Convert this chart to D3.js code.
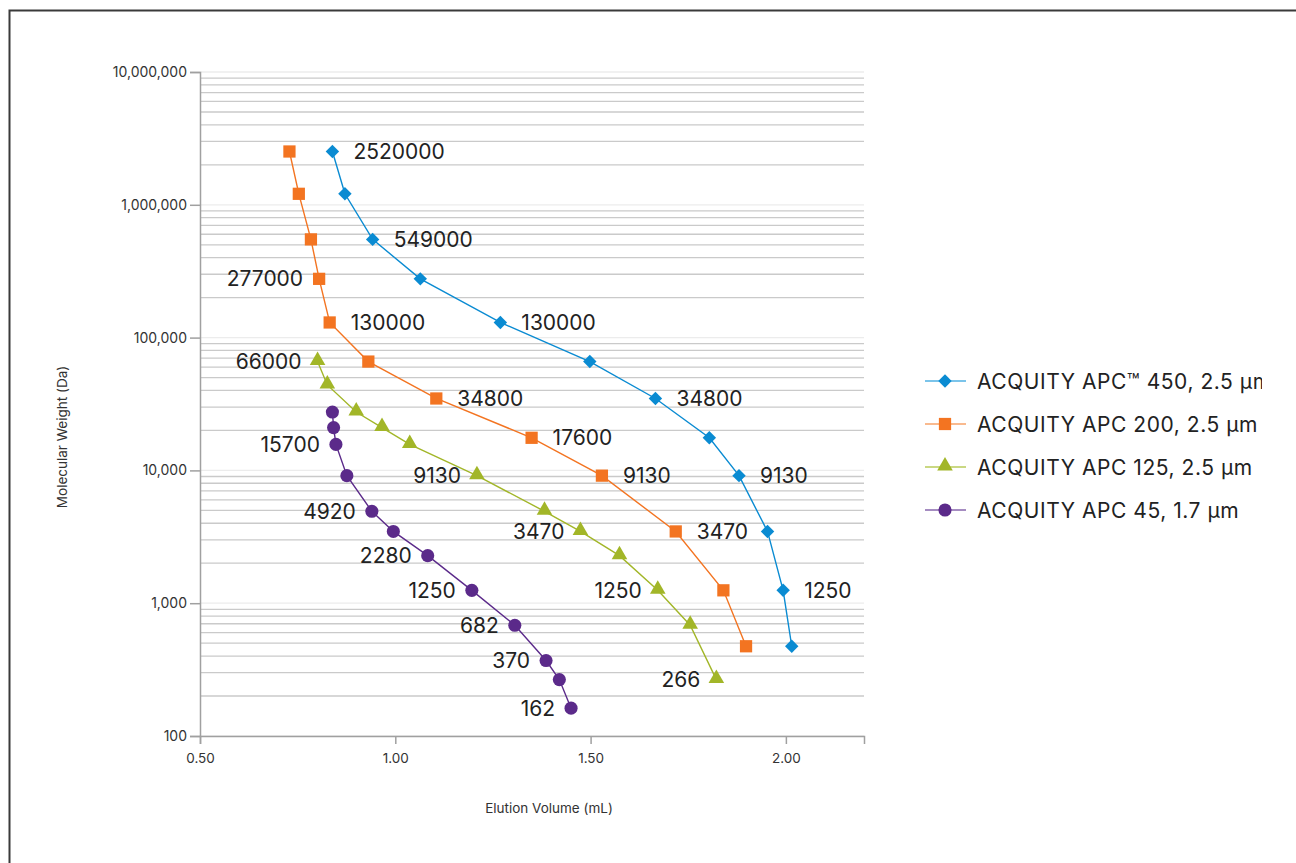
<!DOCTYPE html>
<html>
<head>
<meta charset="utf-8">
<script src="https://cdn.jsdelivr.net/npm/d3@7"></script>
<style>
	body { margin: 0; background: #fff; }
	text { font-family: Inter, "Liberation Sans", sans-serif; }
</style>
</head>
<body>
<div id="chart"></div>
<script>
// values (elution volume in mL, molecular weight in Da)
var apc450Volume = [0.839, 0.871, 0.942, 1.064, 1.269, 1.498, 1.666, 1.804, 1.880, 1.953, 1.993, 2.015];
var apc450MW = [2520000, 1210000, 549000, 277000, 130000, 66000, 34800, 17600, 9130, 3470, 1250, 474];

var apc200Volume = [0.729, 0.753, 0.784, 0.805, 0.832, 0.931, 1.105, 1.349, 1.529, 1.718, 1.840, 1.898];
var apc200MW = [2520000, 1210000, 549000, 277000, 130000, 66000, 34800, 17600, 9130, 3470, 1250, 474];

var apc125Volume = [0.801, 0.826, 0.900, 0.966, 1.037, 1.209, 1.382, 1.474, 1.574, 1.672, 1.755, 1.822];
var apc125MW = [66000, 44000, 27500, 21000, 15700, 9130, 4920, 3470, 2280, 1250, 682, 266];

var apc45Volume = [0.839, 0.842, 0.848, 0.876, 0.940, 0.995, 1.083, 1.196, 1.306, 1.386, 1.420, 1.450];
var apc45MW = [27500, 21000, 15700, 9130, 4920, 3470, 2280, 1250, 682, 370, 266, 162];

// which points carry a value label, and which of those sit on the left
var apc450Labelled = [0, 2, 4, 6, 8, 10];
var apc450LeftLabels = [];
var apc200Labelled = [3, 4, 6, 7, 8, 9];
var apc200LeftLabels = [3];
var apc125Labelled = [0, 5, 7, 9, 11];
var apc125LeftLabels = [0, 5, 7, 9, 11];
var apc45Labelled = [2, 4, 6, 7, 8, 9, 11];
var apc45LeftLabels = [2, 4, 6, 7, 8, 9, 11];

var seriesNames = ["ACQUITY APC\u2122 450, 2.5 \u00b5m", "ACQUITY APC 200, 2.5 \u00b5m",
	"ACQUITY APC 125, 2.5 \u00b5m", "ACQUITY APC 45, 1.7 \u00b5m"];

var xTicks = [0.5, 1.0, 1.5, 2.0];
var yTicks = [100, 1000, 10000, 100000, 1000000, 10000000];

var series = [
	{ name: seriesNames[0], x: apc450Volume, y: apc450MW, labels: apc450Labelled, left: apc450LeftLabels,
		color: "#0a8bd2", legendLine: "#4fb0e3", symbol: "diamond" },
	{ name: seriesNames[1], x: apc200Volume, y: apc200MW, labels: apc200Labelled, left: apc200LeftLabels,
		color: "#f37421", legendLine: "#f7a36a", symbol: "square" },
	{ name: seriesNames[2], x: apc125Volume, y: apc125MW, labels: apc125Labelled, left: apc125LeftLabels,
		color: "#a2b628", legendLine: "#b9cb5a", symbol: "triangle" },
	{ name: seriesNames[3], x: apc45Volume, y: apc45MW, labels: apc45Labelled, left: apc45LeftLabels,
		color: "#5b2a8a", legendLine: "#8766ad", symbol: "circle" }
];

var W = 1296, H = 863;
var svg = d3.select("#chart")
	.append("svg")
	.attr("width", W)
	.attr("height", H);

// frame
svg.append("path")
	.attr("d", "M9.5," + H + "V10.5H" + W)
	.attr("fill", "none")
	.attr("stroke", "#3a3a3a")
	.attr("stroke-width", 2);

var x = d3.scaleLinear().domain([0.5, 2.2]).range([200, 864]);
var y = d3.scaleLog().domain([100, 10000000]).range([736, 72]);

// minor / major horizontal grid
var gridVals = [];
for (var e = 2; e < 7; e++) {
	for (var m = 1; m < 10; m++) gridVals.push(m * Math.pow(10, e));
}
gridVals.push(10000000);
svg.append("g")
	.selectAll("line")
	.data(gridVals)
	.join("line")
	.attr("x1", x(0.5)).attr("x2", x(2.2))
	.attr("y1", d => y(d)).attr("y2", d => y(d))
	.attr("stroke", d => yTicks.indexOf(d) >= 0 ? "#ececec" : "#cacaca")
	.attr("stroke-width", 1.3);

// Y axis
var yAxis = svg.append("g")
	.attr("transform", "translate(200,0)")
	.call(d3.axisLeft(y).tickValues(yTicks).tickFormat(d3.format(",")).tickSize(10).tickPadding(3));
yAxis.select(".domain").attr("stroke", "#a0a0a0").attr("stroke-width", 1.5);
yAxis.selectAll(".tick line").attr("stroke", "#a0a0a0").attr("stroke-width", 1.5);
yAxis.selectAll("text").attr("font-size", 14).attr("fill", "#333")
	.style("font-family", "Inter, 'Liberation Sans', sans-serif");

// X axis
var xAxis = svg.append("g")
	.attr("transform", "translate(0,736)")
	.call(d3.axisBottom(x).tickValues(xTicks).tickFormat(d3.format(".2f")).tickSize(8).tickPadding(9));
xAxis.select(".domain").attr("stroke", "#a0a0a0").attr("stroke-width", 1.5);
xAxis.selectAll(".tick line").attr("stroke", "#a0a0a0").attr("stroke-width", 1.5);
xAxis.selectAll("text").attr("font-size", 13.5).attr("fill", "#333")
	.style("font-family", "Inter, 'Liberation Sans', sans-serif");

// axis titles
svg.append("text")
	.attr("x", 549).attr("y", 813)
	.attr("text-anchor", "middle")
	.attr("font-size", 13.5).attr("fill", "#333")
	.text("Elution Volume (mL)");
svg.append("text")
	.attr("transform", "translate(67,437)rotate(-90)")
	.attr("text-anchor", "middle")
	.attr("font-size", 13.5).attr("fill", "#333")
	.text("Molecular Weight (Da)");

// marker shapes
var symbolPath = (name) => {
	if (name == "diamond") return d3.symbol(d3.symbolSquare, 90)();
	if (name == "square") return d3.symbol(d3.symbolSquare, 150)();
	if (name == "triangle") return d3.symbol(d3.symbolTriangle, 105)();
	return d3.symbol(d3.symbolCircle, 135)();
};
var symbolTransform = (name, px, py) => {
	if (name == "diamond") return "translate(" + px + "," + py + ")rotate(45)";
	if (name == "triangle") return "translate(" + px + "," + (py - 1) + ")";
	return "translate(" + px + "," + py + ")";
};

var line = d3.line().x(d => x(d[0])).y(d => y(d[1]));

series.forEach((s) => {
	var pts = s.x.map((v, i) => [v, s.y[i], i]);
	var g = svg.append("g");
	g.append("path")
		.attr("d", line(pts))
		.attr("fill", "none")
		.attr("stroke", s.color)
		.attr("stroke-width", 1.4);
	g.selectAll("path.mark")
		.data(pts)
		.join("path")
		.attr("class", "mark")
		.attr("d", symbolPath(s.symbol))
		.attr("transform", d => symbolTransform(s.symbol, x(d[0]), y(d[1])))
		.attr("fill", s.color);
	g.selectAll("text")
		.data(pts.filter(d => s.labels.indexOf(d[2]) >= 0))
		.join("text")
		.attr("x", d => s.left.indexOf(d[2]) >= 0 ? x(d[0]) - 16 : x(d[0]) + 21)
		.attr("y", d => y(d[1]))
		.attr("dy", "0.36em")
		.attr("text-anchor", d => s.left.indexOf(d[2]) >= 0 ? "end" : "start")
		.attr("font-size", 21)
		.attr("fill", "#222")
		.text(d => String(d[1]));
});

// legend (clipped on the right like the original)
svg.append("clipPath").attr("id", "legclip")
	.append("rect").attr("x", 900).attr("y", 340).attr("width", 362).attr("height", 200);
var legend = svg.append("g").attr("clip-path", "url(#legclip)");
series.forEach((s, i) => {
	var ly = 381 + i * 43;
	legend.append("line")
		.attr("x1", 925).attr("x2", 966)
		.attr("y1", ly).attr("y2", ly)
		.attr("stroke", s.legendLine)
		.attr("stroke-width", 1.6);
	legend.append("path")
		.attr("d", symbolPath(s.symbol))
		.attr("transform", symbolTransform(s.symbol, 945, ly))
		.attr("fill", s.color);
	legend.append("text")
		.attr("x", 977).attr("y", ly)
		.attr("dy", "0.36em")
		.attr("font-size", 21)
		.attr("letter-spacing", 0.55)
		.attr("fill", "#222")
		.text(s.name);
});
</script>
</body>
</html>
